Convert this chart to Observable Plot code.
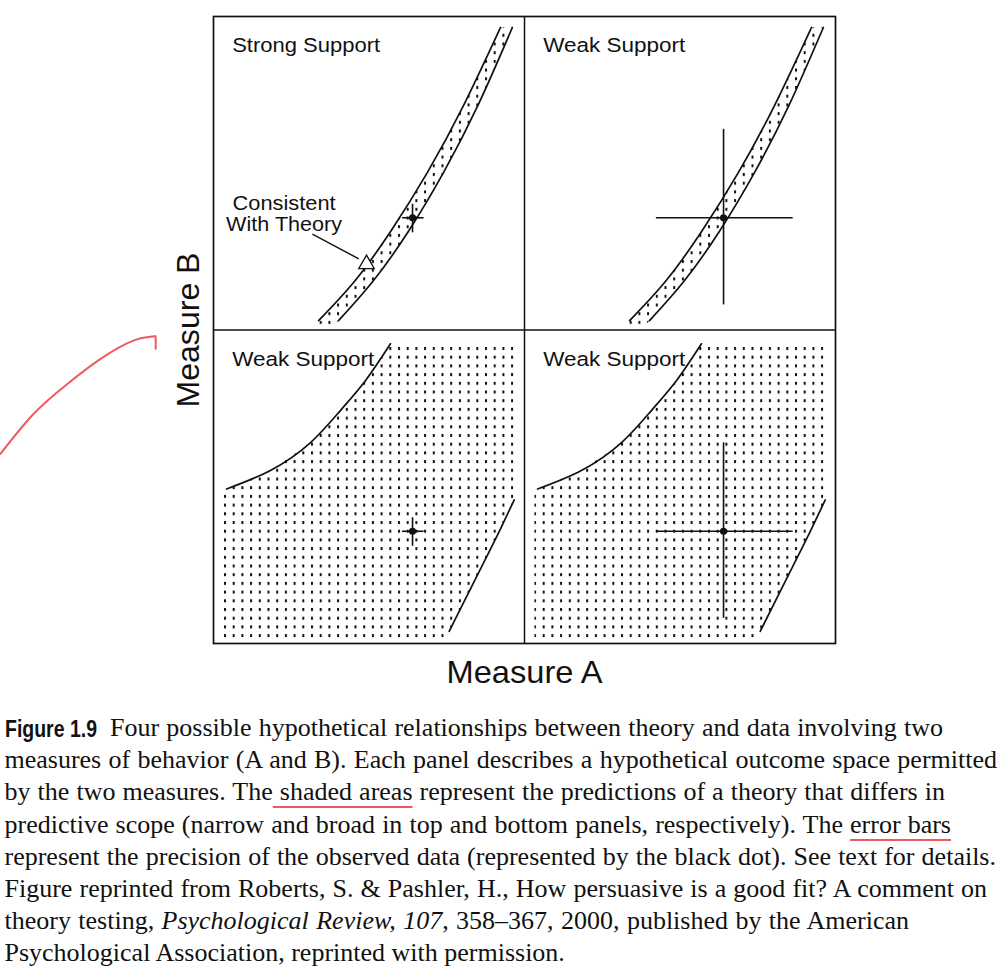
<!DOCTYPE html>
<html>
<head>
<meta charset="utf-8">
<script src="https://cdn.jsdelivr.net/npm/d3@7"></script>
<script src="https://cdn.jsdelivr.net/npm/@observablehq/plot@0.6"></script>
<style>
  html, body { margin: 0; padding: 0; background: #fff; }
  body { width: 1006px; height: 978px; overflow: hidden; position: relative; }
  #chart { position: absolute; left: 0; top: 0; }
  .cap { position: absolute; white-space: nowrap; font-family: "Liberation Serif", "Times New Roman", serif;
         font-size: 26px; line-height: 26px; color: #111; }
  .fig { position: absolute; white-space: nowrap; font-family: "Liberation Sans Narrow", "Arial Narrow", "Liberation Sans", Arial, sans-serif;
         font-weight: bold; font-size: 24px; line-height: 26px; color: #111; transform-origin: 0 0; }
  .red { text-decoration-line: underline; text-decoration-color: #ec5a5f; text-decoration-thickness: 2px;
         text-underline-offset: 6px; text-decoration-skip-ink: none; }
</style>
</head>
<body>
<div id="chart"></div>
<div id="caption"></div>
<script>
// ---------------- data (panel units, 0–100 within each panel) ----------------
const panelLabels    = ["Strong Support", "Weak Support", "Weak Support", "Weak Support"];
const panelColumn    = [0, 1, 0, 1];              // 0 = left, 1 = right
const panelRow       = [1, 1, 0, 0];              // 1 = top,  0 = bottom
const panelScope     = ["narrow", "narrow", "broad", "broad"];
const panelPrecision = ["high", "low", "high", "low"];

// narrow theory band (top panels): two edges
const bandLeftX  = [33.8, 45.5, 57.0, 68.7, 80.5, 92.3];
const bandLeftY  = [3.0, 15.7, 31.5, 50.1, 71.8, 96.5];
const bandRightX = [40.2, 51.4, 62.7, 73.9, 85.1, 96.1];
const bandRightY = [3.0, 15.7, 31.5, 50.1, 71.8, 96.5];

// broad theory region (bottom panels): two bounding curves
const broadUpperX = [4.2, 18.3, 31.2, 40.8, 48.9, 56.9];
const broadUpperY = [49.3, 55.2, 64.1, 74.3, 83.9, 95.6];
const broadLowerX = [75.8, 81.7, 87.6, 92.4, 96.7];
const broadLowerY = [3.9, 15.6, 27.2, 36.8, 45.8];
const fieldX = [3.2, 97.0];     // extent of the shaded field
const fieldY = [1.6, 96.2];

// observed data point and its error bars
const observedX = 64.0, observedY = 35.8;
const errSmallX = [60.8, 67.7], errSmallY = [31.0, 40.1];
const errLargeX = [42.4, 86.4], errLargeY = [8.0, 64.0];

// labels
const labelPos = [6.0, 88.6];
const noteLines = ["Consistent", "With Theory"];
const noteX = 22.7, noteY = [38.3, 31.6];
const noteArrowFrom = [31.8, 30.6], noteArrowTo = [46.7, 22.7], noteMarker = [49.2, 21.0];
const axisLabels = ["Measure A", "Measure B"];

// red hand-drawn annotation (relative to bottom-left panel)
const redMarkX = [-68.5, -57.8, -47.0, -36.3, -25.6, -19.7, -18.6, -18.6];
const redMarkY = [60.5, 73.3, 82.8, 90.8, 96.7, 97.9, 97.7, 94.0];

// caption
const captionLead = "Figure 1.9";
const captionLines = [
  "Four possible hypothetical relationships between theory and data involving two",
  "measures of behavior (A and B). Each panel describes a hypothetical outcome space permitted",
  "by the two measures. The<span class=\"red\"> shaded areas</span> represent the predictions of a theory that differs in",
  "predictive scope (narrow and broad in top and bottom panels, respectively). The <span class=\"red\">error bars</span>",
  "represent the precision of the observed data (represented by the black dot). See text for details.",
  "Figure reprinted from Roberts, S. &amp; Pashler, H., How persuasive is a good fit? A comment on",
  "theory testing, <i>Psychological Review, 107</i>, 358–367, 2000, published by the American",
  "Psychological Association, reprinted with permission."
];
const captionRight = [943, 997, 945, 951, 996, 987, 909, null];

// ---------------- build ----------------
const panels = panelLabels.map((label, i) => ({
  i, label, col: panelColumn[i], dx: panelColumn[i] * 100, dy: panelRow[i] * 100,
  scope: panelScope[i], prec: panelPrecision[i]
}));
const pts = (xs, ys) => xs.map((x, k) => [x, ys[k]]);
const place = (p, arr, extra) => arr.map(([x, y]) => ({x: x + p.dx, y: y + p.dy, ...extra}));

const curves = [], fills = [];
panels.forEach(p => {
  if (p.scope === "narrow") {
    const L = pts(bandLeftX, bandLeftY), R = pts(bandRightX, bandRightY);
    curves.push(...place(p, L, {id: p.i + "L"}), ...place(p, R, {id: p.i + "R"}));
    const ext = (xs, ys, yy) => xs[0] + (yy - ys[0]) * (xs[1] - xs[0]) / (ys[1] - ys[0]);
    const poly = [[ext(bandLeftX, bandLeftY, 1.0), 1.0], ...L, ...R.slice().reverse(), [ext(bandRightX, bandRightY, 1.0), 1.0]];
    fills.push(...place(p, poly, {id: p.i, col: p.col}));
  } else {
    const U = pts(broadUpperX, broadUpperY), D = pts(broadLowerX, broadLowerY);
    curves.push(...place(p, U, {id: p.i + "U"}), ...place(p, D, {id: p.i + "D"}));
    const poly = [[fieldX[0], fieldY[0]], [fieldX[0], broadUpperY[0] - 0.3], ...U,
      [broadUpperX.at(-1), fieldY[1]], [fieldX[1], fieldY[1]], [fieldX[1], broadLowerY.at(-1)],
      ...D.slice().reverse(), [broadLowerX[0] - 0.5, fieldY[0]]];
    fills.push(...place(p, poly, {id: p.i, col: p.col}));
  }
});

const obs = panels.map(p => ({x: observedX + p.dx, y: observedY + p.dy}));
const errH = panels.map(p => {
  const ex = p.prec === "high" ? errSmallX : errLargeX;
  return {x1: ex[0] + p.dx, x2: ex[1] + p.dx, y: observedY + p.dy};
});
const errV = panels.map(p => {
  const ey = p.prec === "high" ? errSmallY : errLargeY;
  return {x: observedX + p.dx, y1: ey[0] + p.dy, y2: ey[1] + p.dy};
});
const labels = panels.map(p => ({x: labelPos[0] + p.dx, y: labelPos[1] + p.dy, text: p.label}));
const tl = panels[0];
const notes = noteLines.map((t, k) => ({x: noteX + tl.dx, y: noteY[k] + tl.dy, text: t}));
const redMark = redMarkX.map((x, k) => ({x, y: redMarkY[k]}));

const sans = "'Liberation Sans', Arial, Helvetica, sans-serif";

const svg = Plot.plot({
  width: 1006, height: 700,
  marginLeft: 213, marginRight: 171, marginTop: 16, marginBottom: 57,
  x: {domain: [0, 200], axis: null},
  y: {domain: [0, 200], axis: null},
  style: {background: "white", color: "#111", overflow: "visible"},
  marks: [
    Plot.line(fills.filter(d => d.col === 0), {x: "x", y: "y", z: "id", fill: "url(#dots0)", stroke: "none"}),
    Plot.line(fills.filter(d => d.col === 1), {x: "x", y: "y", z: "id", fill: "url(#dots1)", stroke: "none"}),
    Plot.line(curves, {x: "x", y: "y", z: "id", curve: "natural", stroke: "#111", strokeWidth: 1.7}),
    Plot.ruleY(errH, {y: "y", x1: "x1", x2: "x2", stroke: "#111", strokeWidth: 1.6}),
    Plot.ruleX(errV, {x: "x", y1: "y1", y2: "y2", stroke: "#111", strokeWidth: 1.6}),
    Plot.dot(obs, {x: "x", y: "y", r: 3.6, fill: "#111", stroke: "none"}),
    Plot.text(labels, {x: "x", y: "y", text: "text", textAnchor: "start", lineAnchor: "bottom",
      fontSize: 20.5, fontFamily: sans, fill: "#111"}),
    Plot.text(notes, {x: "x", y: "y", text: "text", textAnchor: "middle", lineAnchor: "bottom",
      fontSize: 20.5, fontFamily: sans, fill: "#111"}),
    Plot.link([0], {x1: () => noteArrowFrom[0] + tl.dx, y1: () => noteArrowFrom[1] + tl.dy,
      x2: () => noteArrowTo[0] + tl.dx, y2: () => noteArrowTo[1] + tl.dy, stroke: "#111", strokeWidth: 1.4}),
    Plot.dot([0], {x: () => noteMarker[0] + tl.dx, y: () => noteMarker[1] + tl.dy, symbol: "triangle",
      r: 5.8, fill: "white", stroke: "#111", strokeWidth: 1.3}),
    Plot.ruleX([100], {stroke: "#111", strokeWidth: 1.5}),
    Plot.ruleY([100], {stroke: "#111", strokeWidth: 1.5}),
    Plot.frame({stroke: "#111", strokeWidth: 1.7}),
    Plot.text([axisLabels[0]], {frameAnchor: "bottom", dy: 29, text: d => d, fontSize: 32,
      fontFamily: sans, fill: "#111", lineAnchor: "middle", textAnchor: "middle"}),
    Plot.text([axisLabels[1]], {frameAnchor: "left", dx: -25, rotate: -90, text: d => d, fontSize: 32,
      fontFamily: sans, fill: "#111", lineAnchor: "middle", textAnchor: "middle"}),
    Plot.line(redMark, {x: "x", y: "y", curve: "natural", stroke: "#ec5a5f", strokeWidth: 2})
  ]
});

// dot-screen patterns (one per column so each panel's grid starts at its own edge)
const defs = d3.select(svg).insert("defs", ":first-child");
[[0, 223.5], [1, 533.5]].forEach(([c, px]) => {
  const pat = defs.append("pattern").attr("id", "dots" + c).attr("patternUnits", "userSpaceOnUse")
    .attr("x", px).attr("y", 346.5).attr("width", 8.7).attr("height", 8.7);
  pat.append("rect").attr("x", 0).attr("y", 0).attr("width", 2).attr("height", 3).attr("fill", "#111");
});

// match the printed label widths
const textWidths = {"Strong Support": 148, "Weak Support": 142, "Consistent": 103, "With Theory": 116,
  "Measure A": 156, "Measure B": 155};
d3.select(svg).selectAll("text").each(function () {
  const w = textWidths[this.textContent];
  if (w) { this.setAttribute("textLength", w); this.setAttribute("lengthAdjust", "spacingAndGlyphs"); }
});

document.getElementById("chart").appendChild(svg);

// ---------------- caption ----------------
const cap = document.getElementById("caption");
const base0 = 737, lineStep = 32.14;
const fig = document.createElement("span");
fig.className = "fig";
fig.textContent = captionLead;
fig.style.left = "5px";
fig.style.top = (base0 - 21.3) + "px";
cap.appendChild(fig);
const fw = fig.getBoundingClientRect().width;
fig.style.transform = `scaleX(${92 / fw})`;

captionLines.forEach((html, i) => {
  const div = document.createElement("div");
  div.className = "cap";
  const left = i === 0 ? 110 : 4.5;
  div.style.left = left + "px";
  div.style.top = (base0 + lineStep * i - 21.8) + "px";
  div.innerHTML = html;
  cap.appendChild(div);
  const right = captionRight[i];
  if (right) {
    const w = div.getBoundingClientRect().width;
    const n = (div.textContent.match(/ /g) || []).length;
    div.style.wordSpacing = ((right - left - w) / n) + "px";
  }
});
</script>
</body>
</html>
